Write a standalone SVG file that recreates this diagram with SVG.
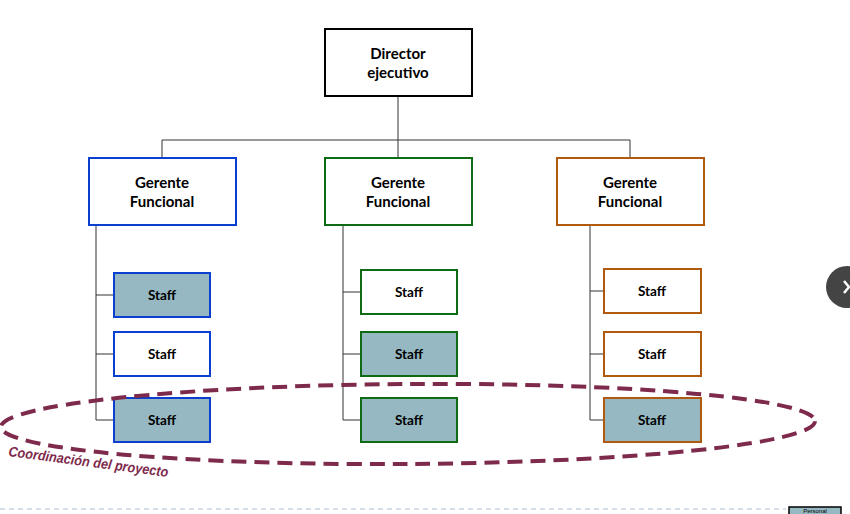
<svg xmlns="http://www.w3.org/2000/svg" width="850" height="514" viewBox="0 0 850 514">
<style>
.box{fill:#fff;stroke-width:2}
.dir{stroke:#000}
.blue{stroke:#0a3fd0}
.green{stroke:#0f6b12}
.orange{stroke:#b05a10}
.teal{fill:#95b8c2}
.t{font-family:Lato,"Open Sans",sans-serif;font-weight:bold;fill:#000;text-anchor:middle}
.big{font-size:15px}
.small{font-size:13.5px}
.conn{stroke:#333;stroke-width:1;fill:none}
</style>
<rect width="850" height="514" fill="#fff"/>
<g id="connectors">
<path class="conn" d="M398 96V140M162 140H630M162 140V158M398 140V158M630 140V158"/>
<path class="conn" d="M96 225V420M96 295H114M96 354H114M96 420H114"/>
<path class="conn" d="M343 225V420M343 292H361M343 354H361M343 420H361"/>
<path class="conn" d="M590 225V420M590 291H604M590 354H604M590 420H604"/>
</g>
<g id="director"><rect class="box dir" x="325" y="29" width="147" height="67"/><text class="t big" x="398" y="59">Director</text><text class="t big" x="398" y="78">ejecutivo</text></g>
<g id="gerente1"><rect class="box blue" x="89" y="158" width="147" height="67"/><text class="t big" x="162" y="188">Gerente</text><text class="t big" x="162" y="207">Funcional</text></g>
<g id="gerente2"><rect class="box green" x="325" y="158" width="147" height="67"/><text class="t big" x="398" y="188">Gerente</text><text class="t big" x="398" y="207">Funcional</text></g>
<g id="gerente3"><rect class="box orange" x="557" y="158" width="147" height="67"/><text class="t big" x="630" y="188">Gerente</text><text class="t big" x="630" y="207">Funcional</text></g>
<g id="staff1a"><rect class="box blue teal" x="114" y="273" width="96" height="44"/><text class="t small" x="162" y="300">Staff</text></g>
<g id="staff1b"><rect class="box blue" x="114" y="332" width="96" height="44"/><text class="t small" x="162" y="359">Staff</text></g>
<g id="staff1c"><rect class="box blue teal" x="114" y="398" width="96" height="44"/><text class="t small" x="162" y="425">Staff</text></g>
<g id="staff2a"><rect class="box green" x="361" y="270" width="96" height="44"/><text class="t small" x="409" y="297">Staff</text></g>
<g id="staff2b"><rect class="box green teal" x="361" y="332" width="96" height="44"/><text class="t small" x="409" y="359">Staff</text></g>
<g id="staff2c"><rect class="box green teal" x="361" y="398" width="96" height="44"/><text class="t small" x="409" y="425">Staff</text></g>
<g id="staff3a"><rect class="box orange" x="604" y="269" width="97" height="44"/><text class="t small" x="652" y="296">Staff</text></g>
<g id="staff3b"><rect class="box orange" x="604" y="332" width="97" height="44"/><text class="t small" x="652" y="359">Staff</text></g>
<g id="staff3c"><rect class="box orange teal" x="604" y="398" width="97" height="44"/><text class="t small" x="652" y="425">Staff</text></g>
<g id="coordinacion">
<ellipse cx="408" cy="424" rx="407" ry="40" transform="rotate(-0.4 408 424)" fill="none" stroke="#7e2a4c" stroke-width="4" stroke-dasharray="15 8"/>
<text x="8" y="456" transform="rotate(7.5 8 456)" textLength="161" lengthAdjust="spacingAndGlyphs" font-family="'Liberation Sans',Arial,sans-serif" font-size="14" font-weight="bold" font-style="italic" fill="#7e2a4c">Coordinación del proyecto</text>
</g>
<g id="nav"><circle cx="847" cy="287" r="21" fill="#444"/><path d="M844 281l5 6-5 6" stroke="#fff" stroke-width="2.5" fill="none"/></g>
<line x1="0" y1="509" x2="786" y2="509" stroke="#a9bfd6" stroke-width="1" stroke-dasharray="5 4"/>
<g id="personal"><rect x="789" y="507" width="52" height="10" fill="#95b8c2" stroke="#000" stroke-width="1.5"/><text x="815" y="513" font-family="'Liberation Sans',Arial,sans-serif" font-size="6" text-anchor="middle" fill="#000">Personal</text></g>
</svg>
